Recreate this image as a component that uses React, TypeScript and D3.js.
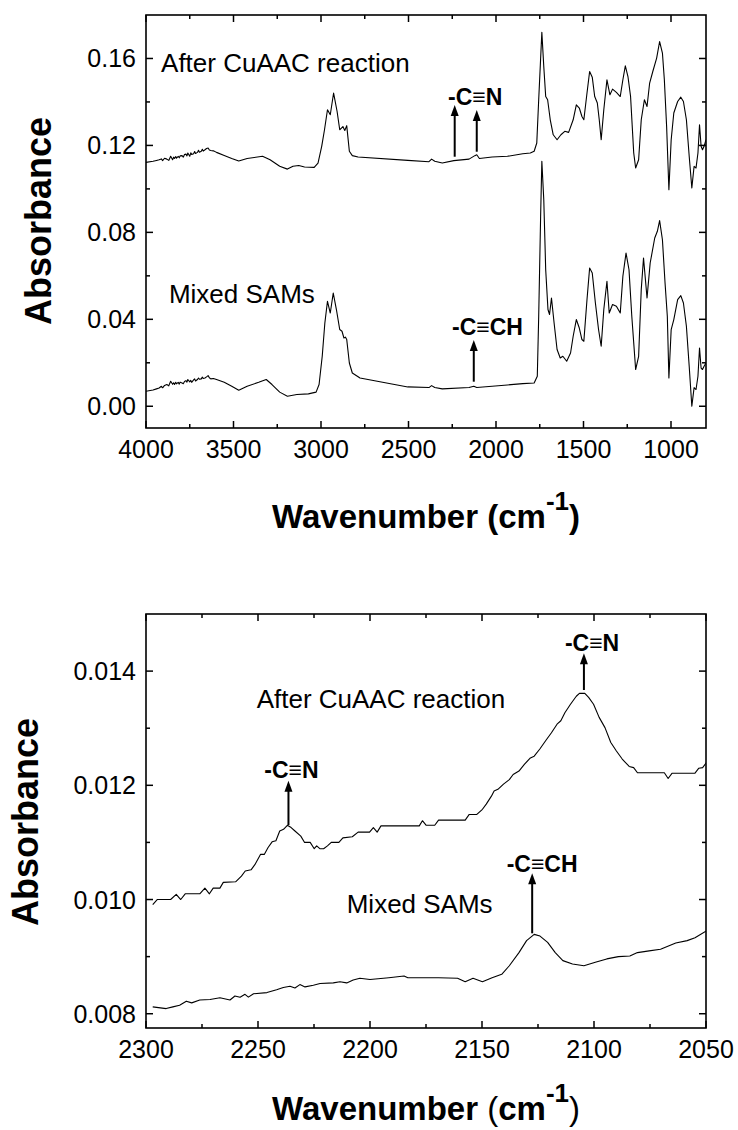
import React from 'react';
import * as d3 from 'd3';

type Pt = [number, number];

// ---------- Tick values ----------
const topXTicks = [4000, 3500, 3000, 2500, 2000, 1500, 1000];
const topXMinor = [3750, 3250, 2750, 2250, 1750, 1250];
const topYTicks = [0.0, 0.04, 0.08, 0.12, 0.16];
const topYMinor = [0.02, 0.06, 0.1, 0.14];
const botXTicks = [2300, 2250, 2200, 2150, 2100, 2050];
const botXMinor = [2275, 2225, 2175, 2125, 2075];
const botYTicks = [0.008, 0.01, 0.012, 0.014];
const botYMinor = [0.009, 0.011, 0.013];

// ---------- Full-range spectra (wavenumber, absorbance) ----------
const afterCuAACFull: Pt[] = [
  [4000, 0.1122], [3960, 0.1127], [3940, 0.1131], [3925, 0.1134], [3912, 0.1138], [3905, 0.1130], [3894, 0.1141],
  [3881, 0.1137], [3870, 0.1131], [3859, 0.115], [3848, 0.1134], [3842, 0.1146], [3837, 0.114], [3830, 0.1149],
  [3826, 0.1141], [3816, 0.115], [3810, 0.1143], [3805, 0.1152], [3794, 0.1153], [3787, 0.1146], [3780, 0.1158],
  [3772, 0.116], [3766, 0.1152], [3761, 0.1165], [3750, 0.115], [3744, 0.1166], [3739, 0.1158], [3728, 0.1162],
  [3722, 0.1172], [3717, 0.1163], [3706, 0.1168], [3700, 0.1178], [3695, 0.1169], [3684, 0.1173], [3678, 0.1182],
  [3673, 0.1174], [3663, 0.118], [3654, 0.1186], [3645, 0.1188], [3638, 0.1179], [3630, 0.1177], [3615, 0.1175],
  [3597, 0.1168], [3553, 0.1154], [3510, 0.114], [3470, 0.1128], [3422, 0.114], [3334, 0.115], [3291, 0.1134],
  [3236, 0.1104], [3192, 0.1091], [3160, 0.1104], [3127, 0.1108], [3094, 0.1101], [3039, 0.1099], [3017, 0.1119],
  [2996, 0.1196], [2980, 0.1272], [2963, 0.1364], [2947, 0.1341], [2928, 0.1441], [2908, 0.1356], [2893, 0.1272],
  [2875, 0.1287], [2864, 0.1269], [2853, 0.1291], [2838, 0.1173], [2821, 0.1153], [2788, 0.1147], [2504, 0.1131],
  [2383, 0.1125], [2368, 0.1137], [2350, 0.1127], [2307, 0.1119], [2241, 0.113], [2154, 0.1137], [2121, 0.1153],
  [2110, 0.1157], [2095, 0.114], [2022, 0.1147], [1935, 0.115], [1847, 0.1162], [1804, 0.1165], [1782, 0.1173],
  [1767, 0.1211], [1756, 0.141], [1738, 0.172], [1727, 0.1563], [1716, 0.1425], [1705, 0.141], [1690, 0.1318],
  [1673, 0.1249], [1651, 0.1226], [1629, 0.1249], [1607, 0.1265], [1585, 0.126], [1559, 0.1318], [1541, 0.1387],
  [1524, 0.1372], [1509, 0.1333], [1498, 0.1318], [1480, 0.1441], [1465, 0.154], [1450, 0.1514], [1436, 0.1425],
  [1421, 0.1395], [1410, 0.1318], [1399, 0.1226], [1384, 0.1364], [1366, 0.1502], [1349, 0.1433], [1334, 0.1459],
  [1312, 0.1444], [1290, 0.1425], [1275, 0.1502], [1261, 0.1566], [1246, 0.1517], [1231, 0.1425], [1213, 0.1165],
  [1202, 0.1096], [1185, 0.1134], [1170, 0.1318], [1152, 0.141], [1137, 0.1379], [1122, 0.1487], [1104, 0.154],
  [1082, 0.1602], [1065, 0.1678], [1049, 0.1625], [1038, 0.1502], [1025, 0.1287], [1012, 0.0996], [999, 0.1226],
  [984, 0.1349], [962, 0.1402], [944, 0.1422], [929, 0.1402], [912, 0.1318], [896, 0.115], [881, 0.1004],
  [868, 0.1104], [857, 0.1096], [846, 0.1165], [837, 0.1295], [828, 0.1196], [820, 0.118], [811, 0.1196], [800, 0.1226],
];

const mixedSAMsFull: Pt[] = [
  [4000, 0.0069], [3960, 0.0075], [3940, 0.0080], [3925, 0.0084], [3912, 0.0092], [3905, 0.0085], [3894, 0.0096],
  [3881, 0.01], [3870, 0.0094], [3859, 0.0115], [3848, 0.0101], [3842, 0.0108], [3837, 0.01], [3830, 0.0110],
  [3826, 0.0103], [3816, 0.011], [3810, 0.0102], [3805, 0.0111], [3794, 0.0107], [3787, 0.0104], [3780, 0.0114],
  [3772, 0.0118], [3766, 0.0111], [3761, 0.0123], [3750, 0.0112], [3744, 0.0119], [3739, 0.011], [3728, 0.0121],
  [3722, 0.0126], [3717, 0.0116], [3706, 0.0123], [3700, 0.0130], [3695, 0.0124], [3684, 0.0126], [3678, 0.0134],
  [3673, 0.0128], [3663, 0.013], [3654, 0.0135], [3645, 0.0141], [3638, 0.0131], [3630, 0.0126], [3615, 0.0128],
  [3597, 0.0123], [3553, 0.011], [3510, 0.0092], [3470, 0.0074], [3422, 0.0092], [3356, 0.011], [3313, 0.0123],
  [3280, 0.01], [3236, 0.0065], [3192, 0.0046], [3138, 0.0054], [3072, 0.0057], [3028, 0.0065], [3011, 0.01],
  [2993, 0.023], [2978, 0.0383], [2963, 0.0483], [2947, 0.0429], [2930, 0.0521], [2912, 0.0445], [2893, 0.0353],
  [2880, 0.0345], [2869, 0.0314], [2860, 0.0318], [2853, 0.0307], [2838, 0.0199], [2821, 0.0153], [2777, 0.013],
  [2504, 0.0089], [2383, 0.0086], [2368, 0.0095], [2350, 0.0086], [2307, 0.008], [2154, 0.0086], [2127, 0.0092],
  [2110, 0.0086], [1935, 0.0098], [1847, 0.0104], [1782, 0.0107], [1764, 0.0138], [1756, 0.0414], [1745, 0.0874],
  [1738, 0.1127], [1727, 0.095], [1716, 0.0628], [1703, 0.0445], [1694, 0.0422], [1683, 0.0498], [1668, 0.0383],
  [1651, 0.0261], [1633, 0.0222], [1618, 0.023], [1596, 0.0207], [1574, 0.0245], [1559, 0.0322], [1541, 0.0399],
  [1524, 0.036], [1509, 0.0307], [1498, 0.0299], [1480, 0.0491], [1465, 0.0636], [1450, 0.0613], [1432, 0.0475],
  [1414, 0.0353], [1399, 0.0276], [1384, 0.0445], [1366, 0.0575], [1353, 0.0429], [1334, 0.0468], [1312, 0.046],
  [1290, 0.0429], [1275, 0.0598], [1257, 0.0705], [1240, 0.0628], [1224, 0.0414], [1202, 0.0169], [1185, 0.023],
  [1170, 0.0537], [1157, 0.0682], [1137, 0.0498], [1119, 0.0659], [1093, 0.0774], [1078, 0.0805], [1065, 0.0854],
  [1049, 0.0766], [1034, 0.0567], [1021, 0.0414], [1012, 0.013], [999, 0.0353], [984, 0.0399], [962, 0.0491],
  [944, 0.0509], [929, 0.0475], [912, 0.0368], [896, 0.0184], [881, 0.0], [868, 0.0086], [857, 0.0077],
  [846, 0.0138], [837, 0.0268], [828, 0.0176], [820, 0.0169], [811, 0.0184], [800, 0.0199],
];

// ---------- Expanded 2300-2050 cm-1 spectra ----------
const afterCuAACZoom: Pt[] = [
  [2297, 0.00991], [2295, 0.0100], [2289, 0.0100], [2286.5, 0.01009], [2284.5, 0.0100], [2282.5, 0.0101],
  [2276, 0.0101], [2273.7, 0.0102], [2271.7, 0.0101], [2270, 0.0102], [2267, 0.0102], [2265.5, 0.0103],
  [2260, 0.01031], [2257.4, 0.01041], [2255.7, 0.0105], [2253.1, 0.01052], [2251.4, 0.01061], [2248.9, 0.01079],
  [2247.2, 0.01079], [2245.5, 0.01091], [2243.7, 0.01101], [2242, 0.01103], [2240.3, 0.0112], [2238.6, 0.01123],
  [2236.9, 0.0113], [2235.2, 0.01126], [2233.5, 0.0112], [2230.9, 0.01111], [2229.2, 0.011], [2226.7, 0.011],
  [2224.9, 0.01089], [2223.8, 0.01094], [2222.4, 0.01089], [2220.7, 0.01089], [2219, 0.01094], [2217.3, 0.011],
  [2213.9, 0.011], [2212.1, 0.01108], [2207.9, 0.0111], [2205.3, 0.01118], [2200.2, 0.01118], [2198.5, 0.01126],
  [2196.8, 0.01118], [2195.1, 0.01129], [2178, 0.01129], [2176.6, 0.01138], [2174.9, 0.0113], [2171.1, 0.0113],
  [2169.4, 0.01139], [2157.5, 0.01139], [2155.7, 0.01149], [2152.3, 0.01149], [2149.8, 0.01158], [2148.1, 0.01167],
  [2145.8, 0.01181], [2144.6, 0.0119], [2142.9, 0.01193], [2140.4, 0.01202], [2137.8, 0.0121], [2136.1, 0.01219],
  [2133.5, 0.01225], [2131, 0.01237], [2128.4, 0.01248], [2126.7, 0.01251], [2124.1, 0.01264], [2121.6, 0.01278],
  [2119, 0.01292], [2116.5, 0.01307], [2114.8, 0.01313], [2113, 0.01327], [2110.5, 0.01342], [2107.9, 0.01356],
  [2106.5, 0.01361], [2104.1, 0.01361], [2102.4, 0.01354], [2100.2, 0.01342], [2097.7, 0.01319], [2095.1, 0.01301],
  [2092.5, 0.01275], [2090, 0.0126], [2087.4, 0.01246], [2084.3, 0.01233], [2082.3, 0.01231], [2080.6, 0.01222],
  [2068.6, 0.01222], [2066.9, 0.01212], [2065.2, 0.01221], [2055, 0.01221], [2053.2, 0.0123], [2051.5, 0.01231],
  [2049.8, 0.0124],
];

const mixedSAMsZoom: Pt[] = [
  [2297, 0.00812], [2291, 0.00809], [2288, 0.00812], [2285, 0.00815], [2282, 0.00822], [2279.6, 0.00819],
  [2276, 0.00824], [2271.4, 0.00825], [2267, 0.00828], [2262.5, 0.00824], [2260.3, 0.00831], [2258, 0.00829],
  [2255.8, 0.00834], [2254.3, 0.00829], [2252, 0.00835], [2246, 0.00837], [2241.7, 0.00842], [2238.7, 0.00846],
  [2235.7, 0.00848], [2233.5, 0.00845], [2231.3, 0.00851], [2229, 0.00847], [2225.3, 0.0085], [2222.3, 0.00853],
  [2216.4, 0.00854], [2213.4, 0.00856], [2210.4, 0.00854], [2207.5, 0.00859], [2204.5, 0.00862], [2200, 0.0086],
  [2191.6, 0.00863], [2184.8, 0.00866], [2183.1, 0.00863], [2169.4, 0.00863], [2160.9, 0.00862], [2157.5, 0.00856],
  [2154, 0.00862], [2149.8, 0.00856], [2145.5, 0.00863], [2141.2, 0.00869], [2137.8, 0.00884], [2133.5, 0.00907],
  [2130.1, 0.00928], [2126.7, 0.00939], [2124.1, 0.00936], [2120.7, 0.00925], [2117.3, 0.00907], [2113.9, 0.00893],
  [2109.6, 0.00887], [2104.5, 0.00884], [2099.4, 0.0089], [2094.3, 0.00896], [2089.1, 0.009], [2084, 0.00901],
  [2080.6, 0.00907], [2075.4, 0.0091], [2070.3, 0.00913], [2063.5, 0.00924], [2058.4, 0.00928], [2054.9, 0.00933],
  [2049.8, 0.00945],
];

// ---------- Annotations (data coordinates) ----------
type Label = { text: string; x: number; y: number; bold?: boolean };
type Arrow = { x: number; from: number; to: number };

const topLabels: Label[] = [
  { text: 'After CuAAC reaction', x: 3914, y: 0.1538 },
  { text: 'Mixed SAMs', x: 3869, y: 0.0475 },
  { text: '-C\u2261N', x: 2274, y: 0.1386, bold: true },
  { text: '-C\u2261CH', x: 2251, y: 0.0328, bold: true },
];
const topArrows: Arrow[] = [
  { x: 2236, from: 0.1148, to: 0.1386 },
  { x: 2110, from: 0.1171, to: 0.1363 },
  { x: 2127, from: 0.0113, to: 0.0305 },
];
const botLabels: Label[] = [
  { text: 'After CuAAC reaction', x: 2250.6, y: 0.01335 },
  { text: 'Mixed SAMs', x: 2210.4, y: 0.00976 },
  { text: '-C\u2261N', x: 2113, y: 0.014357, bold: true },
  { text: '-C\u2261N', x: 2247.2, y: 0.012123, bold: true },
  { text: '-C\u2261CH', x: 2139, y: 0.010487, bold: true },
];
const botArrows: Arrow[] = [
  { x: 2104.5, from: 0.013669, to: 0.014312 },
  { x: 2236.4, from: 0.011305, to: 0.012081 },
  { x: 2127.6, from: 0.009408, to: 0.010459 },
];

const FONT = "Arial, 'Liberation Sans', Helvetica, sans-serif";

type PanelProps = {
  box: { left: number; right: number; top: number; bottom: number };
  xDomain: [number, number];
  yDomain: [number, number];
  xTicks: number[];
  xMinor: number[];
  yTicks: number[];
  yMinor: number[];
  yFmt: (v: number) => string;
  series: Pt[][];
  labels: Label[];
  arrows: Arrow[];
  yTitleX: number;
  yTitleY: number;
  xTitleY: number;
  boldParens: boolean;
};

function Panel(p: PanelProps) {
  const { box } = p;
  const x = d3.scaleLinear().domain(p.xDomain).range([box.left, box.right]);
  const y = d3.scaleLinear().domain(p.yDomain).range([box.bottom, box.top]);
  const line = d3
    .line<Pt>()
    .x((d) => x(d[0]))
    .y((d) => y(d[1]));
  const majorLen = 7;
  const minorLen = 4;
  const clipId = 'clip' + box.top;
  return (
    <g>
      <defs>
        <clipPath id={clipId}>
          <rect x={box.left} y={box.top} width={box.right - box.left} height={box.bottom - box.top} />
        </clipPath>
      </defs>
      <g clipPath={`url(#${clipId})`}>
        {p.series.map((s, i) => (
          <path key={i} d={line(s) || ''} fill="none" stroke="#000" strokeWidth={1.1} strokeLinejoin="round" />
        ))}
      </g>
      {p.xTicks.map((t) => (
        <g key={'xt' + t}>
          <line x1={x(t)} x2={x(t)} y1={box.bottom} y2={box.bottom - majorLen} stroke="#000" strokeWidth={1.5} />
          <line x1={x(t)} x2={x(t)} y1={box.top} y2={box.top + majorLen} stroke="#000" strokeWidth={1.5} />
          <text x={x(t)} y={box.bottom + 30} textAnchor="middle" fontSize={25} fontFamily={FONT}>
            {t}
          </text>
        </g>
      ))}
      {p.xMinor.map((t) => (
        <g key={'xm' + t}>
          <line x1={x(t)} x2={x(t)} y1={box.bottom} y2={box.bottom - minorLen} stroke="#000" strokeWidth={1.5} />
          <line x1={x(t)} x2={x(t)} y1={box.top} y2={box.top + minorLen} stroke="#000" strokeWidth={1.5} />
        </g>
      ))}
      {p.yTicks.map((t) => (
        <g key={'yt' + t}>
          <line x1={box.left} x2={box.left + majorLen} y1={y(t)} y2={y(t)} stroke="#000" strokeWidth={1.5} />
          <line x1={box.right} x2={box.right - majorLen} y1={y(t)} y2={y(t)} stroke="#000" strokeWidth={1.5} />
          <text x={box.left - 10} y={y(t)} dy="0.36em" textAnchor="end" fontSize={25} fontFamily={FONT}>
            {p.yFmt(t)}
          </text>
        </g>
      ))}
      {p.yMinor.map((t) => (
        <g key={'ym' + t}>
          <line x1={box.left} x2={box.left + minorLen} y1={y(t)} y2={y(t)} stroke="#000" strokeWidth={1.5} />
          <line x1={box.right} x2={box.right - minorLen} y1={y(t)} y2={y(t)} stroke="#000" strokeWidth={1.5} />
        </g>
      ))}
      <rect
        x={box.left}
        y={box.top}
        width={box.right - box.left}
        height={box.bottom - box.top}
        fill="none"
        stroke="#000"
        strokeWidth={1.6}
      />
      {p.labels.map((l, i) => (
        <text
          key={'lb' + i}
          x={x(l.x)}
          y={y(l.y)}
          fontSize={l.bold ? 23 : 26}
          fontWeight={l.bold ? 'bold' : 'normal'}
          fontFamily={FONT}
        >
          {l.text}
        </text>
      ))}
      {p.arrows.map((a, i) => {
        const ax = x(a.x);
        const y0 = y(a.from);
        const y1 = y(a.to);
        const head = 11;
        return (
          <g key={'ar' + i}>
            <line x1={ax} x2={ax} y1={y0} y2={y1 + head - 1} stroke="#000" strokeWidth={2} />
            <path d={`M${ax},${y1} L${ax - 4},${y1 + head} L${ax + 4},${y1 + head} Z`} fill="#000" />
          </g>
        );
      })}
      <text
        transform={`translate(${p.yTitleX},${p.yTitleY}) rotate(-90)`}
        textAnchor="middle"
        fontSize={36}
        fontWeight="bold"
        fontFamily={FONT}
      >
        Absorbance
      </text>
      <text x={(box.left + box.right) / 2} y={p.xTitleY} textAnchor="middle" fontSize={33} fontWeight="bold" fontFamily={FONT}>
        Wavenumber{' '}
        <tspan fontWeight={p.boldParens ? 'bold' : 'normal'}>(</tspan>
        cm
        <tspan dy={-18} fontSize={26}>
          -1
        </tspan>
        <tspan dy={18} fontWeight={p.boldParens ? 'bold' : 'normal'}>
          )
        </tspan>
      </text>
    </g>
  );
}

export default function App() {
  return (
    <svg
      width={738}
      height={1130}
      style={{ position: 'absolute', left: 0, top: 0, background: '#fff' }}
      xmlns="http://www.w3.org/2000/svg"
    >
      <rect x={0} y={0} width={738} height={1130} fill="#fff" />
      <Panel
        box={{ left: 146, right: 706, top: 15, bottom: 428 }}
        xDomain={[4000, 800]}
        yDomain={[-0.01, 0.18]}
        xTicks={topXTicks}
        xMinor={topXMinor}
        yTicks={topYTicks}
        yMinor={topYMinor}
        yFmt={d3.format('.2f')}
        series={[afterCuAACFull, mixedSAMsFull]}
        labels={topLabels}
        arrows={topArrows}
        yTitleX={51}
        yTitleY={221}
        xTitleY={528}
        boldParens={true}
      />
      <Panel
        box={{ left: 146, right: 706, top: 614, bottom: 1028 }}
        xDomain={[2300, 2050]}
        yDomain={[0.00775, 0.015]}
        xTicks={botXTicks}
        xMinor={botXMinor}
        yTicks={botYTicks}
        yMinor={botYMinor}
        yFmt={d3.format('.3f')}
        series={[afterCuAACZoom, mixedSAMsZoom]}
        labels={botLabels}
        arrows={botArrows}
        yTitleX={38}
        yTitleY={822}
        xTitleY={1120}
        boldParens={false}
      />
    </svg>
  );
}
